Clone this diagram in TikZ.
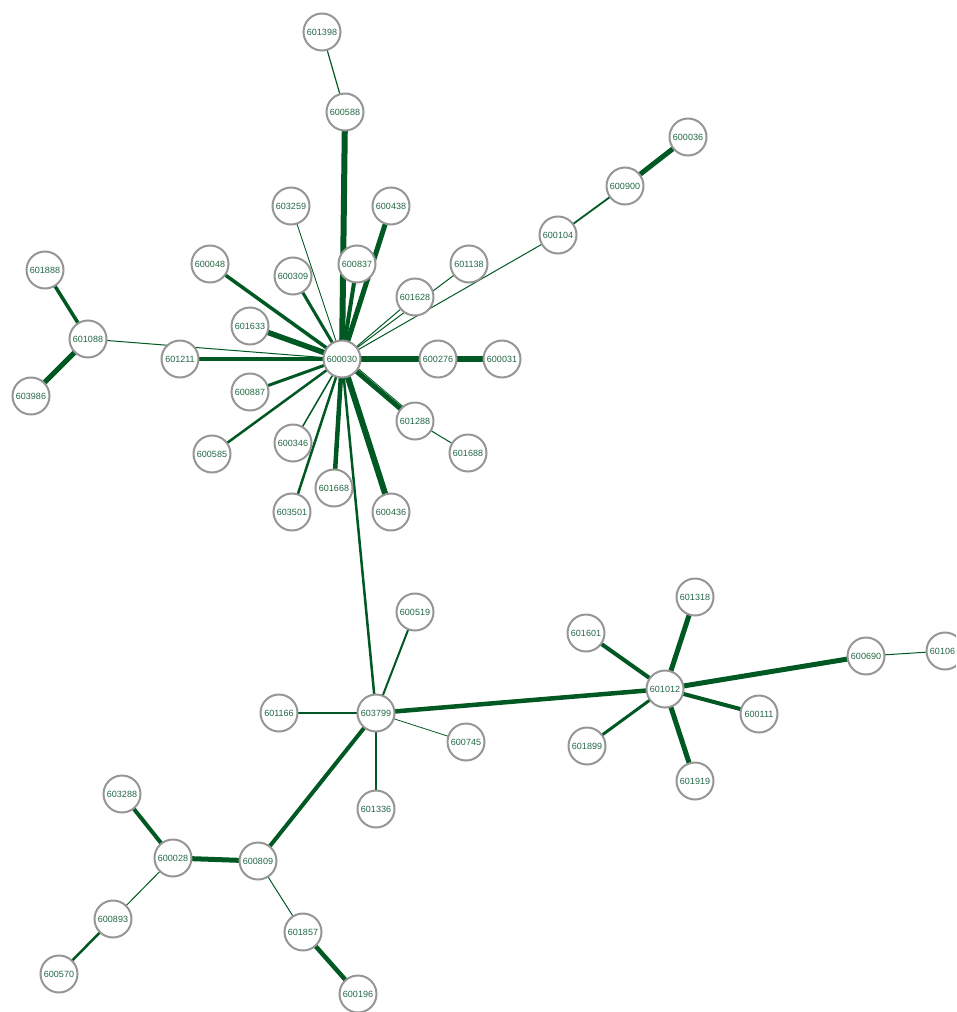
\documentclass[tikz,border=0pt]{standalone}
\usepackage{fontspec}
\setmainfont{Liberation Sans}
\usetikzlibrary{backgrounds}
\definecolor{edgegreen}{RGB}{0,88,34}
\definecolor{labelgreen}{RGB}{34,104,68}
\definecolor{ringgray}{RGB}{150,150,150}
\tikzset{
  stock/.style={circle, draw=ringgray, line width=2pt, fill=white, minimum size=37pt, inner sep=0pt, text=labelgreen, font=\fontsize{9}{10}\selectfont},
  link/.style={draw=edgegreen}
}
\begin{document}
\begin{tikzpicture}[x=1pt,y=-1pt]
\useasboundingbox (0,0) rectangle (956,1012);
\clip (0,0) rectangle (956,1012);
% nodes
\node[stock] (n601398) at (322,32) {601398};
\node[stock] (n600588) at (345,112) {600588};
\node[stock] (n600036) at (688,137) {600036};
\node[stock] (n600900) at (625,186) {600900};
\node[stock] (n603259) at (291,206) {603259};
\node[stock] (n600438) at (391,206) {600438};
\node[stock] (n600104) at (558,235) {600104};
\node[stock] (n600837) at (357,264) {600837};
\node[stock] (n600048) at (210,264) {600048};
\node[stock] (n600309) at (293,276) {600309};
\node[stock] (n601138) at (469,264) {601138};
\node[stock] (n601888) at (45,270) {601888};
\node[stock] (n601628) at (415,297) {601628};
\node[stock] (n601633) at (250,326) {601633};
\node[stock] (n601088) at (88,339) {601088};
\node[stock] (n601211) at (180,359) {601211};
\node[stock] (n600030) at (342,359) {600030};
\node[stock] (n600276) at (438,359) {600276};
\node[stock] (n600031) at (502,359) {600031};
\node[stock] (n600887) at (250,392) {600887};
\node[stock] (n603986) at (31,396) {603986};
\node[stock] (n601288) at (415,421) {601288};
\node[stock] (n601688) at (468,453) {601688};
\node[stock] (n600585) at (212,454) {600585};
\node[stock] (n600346) at (293,443) {600346};
\node[stock] (n601668) at (334,488) {601668};
\node[stock] (n603501) at (292,512) {603501};
\node[stock] (n600436) at (391,512) {600436};
\node[stock] (n600519) at (415,612) {600519};
\node[stock] (n601318) at (695,597) {601318};
\node[stock] (n601601) at (586,633) {601601};
\node[stock] (n600690) at (866,656) {600690};
\node[stock] (n60106) at (945,651) {60106\phantom{6}};
\node[stock] (n601012) at (665,689) {601012};
\node[stock] (n601166) at (279,713) {601166};
\node[stock] (n603799) at (376,713) {603799};
\node[stock] (n600111) at (759,714) {600111};
\node[stock] (n600745) at (466,742) {600745};
\node[stock] (n601899) at (587,746) {601899};
\node[stock] (n601919) at (695,781) {601919};
\node[stock] (n601336) at (376,809) {601336};
\node[stock] (n603288) at (122,794) {603288};
\node[stock] (n600028) at (173,858) {600028};
\node[stock] (n600809) at (258,861) {600809};
\node[stock] (n600893) at (113,919) {600893};
\node[stock] (n601857) at (303,932) {601857};
\node[stock] (n600570) at (59,974) {600570};
\node[stock] (n600196) at (358,994) {600196};
% edges
\begin{pgfonlayer}{background}
\fill[white] (0,0) rectangle (956,1012);
\draw[link, line width=1.2] (n600588.center) -- (n601398.center);
\draw[link, line width=6] (n600588.center) -- (n600030.center);
\draw[link, line width=5] (n600438.center) -- (n600030.center);
\draw[link, line width=4] (n600837.center) -- (n600030.center);
\draw[link, line width=0.8] (n603259.center) -- (n600030.center);
\draw[link, line width=3.5] (n600048.center) -- (n600030.center);
\draw[link, line width=3] (n600309.center) -- (n600030.center);
\draw[link, line width=5.5] (n601633.center) -- (n600030.center);
\draw[link, line width=4.5] (n601211.center) -- (n600030.center);
\draw[link, line width=1] (n601088.center) -- (n600030.center);
\draw[link, line width=3] (n600887.center) -- (n600030.center);
\draw[link, line width=2.5] (n600585.center) -- (n600030.center);
\draw[link, line width=1.5] (n600346.center) -- (n600030.center);
\draw[link, line width=2.5] (n603501.center) -- (n600030.center);
\draw[link, line width=4.5] (n601668.center) -- (n600030.center);
\draw[link, line width=6] (n600436.center) -- (n600030.center);
\draw[link, line width=2.5] (n603799.center) -- (n600030.center);
\draw[link, line width=5] (n601288.center) -- (n600030.center);
\draw[link, line width=0.8] ([shift={(2.2pt,2.4pt)}]n601288.center) -- ([shift={(2.2pt,2.4pt)}]n600030.center);
\draw[link, line width=1] (n601288.center) -- (n601688.center);
\draw[link, line width=6] (n600276.center) -- (n600030.center);
\draw[link, line width=6] (n600276.center) -- (n600031.center);
\draw[link, line width=1] (n601628.center) -- (n600030.center);
\draw[link, line width=1] (n601138.center) -- (n600030.center);
\draw[link, line width=1] (n600104.center) -- (n600030.center);
\draw[link, line width=1.8] (n600104.center) -- (n600900.center);
\draw[link, line width=5] (n600900.center) -- (n600036.center);
\draw[link, line width=3.5] (n601888.center) -- (n601088.center);
\draw[link, line width=5] (n601088.center) -- (n603986.center);
\draw[link, line width=2] (n603799.center) -- (n600519.center);
\draw[link, line width=1.5] (n603799.center) -- (n601166.center);
\draw[link, line width=0.8] (n603799.center) -- (n600745.center);
\draw[link, line width=1.5] (n603799.center) -- (n601336.center);
\draw[link, line width=4] (n603799.center) -- (n600809.center);
\draw[link, line width=4.5] (n603799.center) -- (n601012.center);
\draw[link, line width=4] (n601012.center) -- (n601601.center);
\draw[link, line width=5] (n601012.center) -- (n601318.center);
\draw[link, line width=5] (n601012.center) -- (n600690.center);
\draw[link, line width=4] (n601012.center) -- (n600111.center);
\draw[link, line width=3] (n601012.center) -- (n601899.center);
\draw[link, line width=5] (n601012.center) -- (n601919.center);
\draw[link, line width=1] (n600690.center) -- (n60106.center);
\draw[link, line width=5] (n600809.center) -- (n600028.center);
\draw[link, line width=1] (n600809.center) -- (n601857.center);
\draw[link, line width=4] (n600028.center) -- (n603288.center);
\draw[link, line width=1] (n600028.center) -- (n600893.center);
\draw[link, line width=2.5] (n600893.center) -- (n600570.center);
\draw[link, line width=4.5] (n601857.center) -- (n600196.center);
\end{pgfonlayer}
\end{tikzpicture}
\end{document}
